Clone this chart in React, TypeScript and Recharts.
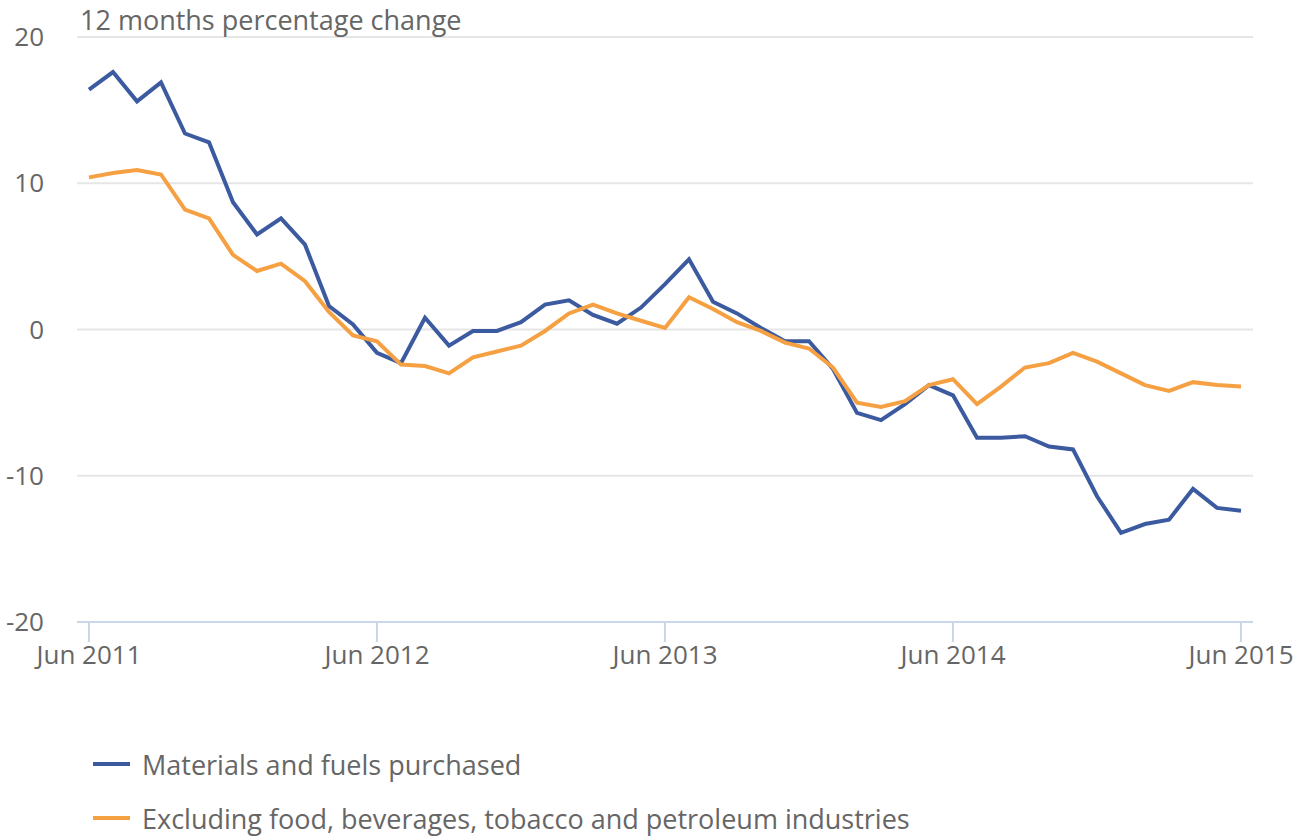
import React from "react";
import { LineChart, Line, XAxis, YAxis, CartesianGrid, Legend } from "recharts";

const MONTHS = [
  "Jun 2011", "Jul 2011", "Aug 2011", "Sep 2011", "Oct 2011", "Nov 2011", "Dec 2011",
  "Jan 2012", "Feb 2012", "Mar 2012", "Apr 2012", "May 2012", "Jun 2012", "Jul 2012",
  "Aug 2012", "Sep 2012", "Oct 2012", "Nov 2012", "Dec 2012", "Jan 2013", "Feb 2013",
  "Mar 2013", "Apr 2013", "May 2013", "Jun 2013", "Jul 2013", "Aug 2013", "Sep 2013",
  "Oct 2013", "Nov 2013", "Dec 2013", "Jan 2014", "Feb 2014", "Mar 2014", "Apr 2014",
  "May 2014", "Jun 2014", "Jul 2014", "Aug 2014", "Sep 2014", "Oct 2014", "Nov 2014",
  "Dec 2014", "Jan 2015", "Feb 2015", "Mar 2015", "Apr 2015", "May 2015", "Jun 2015",
];

const MATERIALS = [
  16.4, 17.6, 15.6, 16.9, 13.4, 12.8, 8.7, 6.5, 7.6, 5.8, 1.6, 0.35, -1.6, -2.3,
  0.8, -1.1, -0.1, -0.1, 0.5, 1.7, 2.0, 1.0, 0.4, 1.5, 3.1, 4.8, 1.9, 1.1,
  0.1, -0.8, -0.8, -2.7, -5.7, -6.2, -5.1, -3.8, -4.5, -7.4, -7.4, -7.3, -8.0, -8.2,
  -11.4, -13.9, -13.3, -13.0, -10.9, -12.2, -12.4,
];

const EXCLUDING = [
  10.4, 10.7, 10.9, 10.6, 8.2, 7.6, 5.1, 4.0, 4.5, 3.3, 1.2, -0.4, -0.8, -2.4,
  -2.5, -3.0, -1.9, -1.5, -1.1, -0.1, 1.1, 1.7, 1.1, 0.6, 0.1, 2.2, 1.4, 0.5,
  -0.1, -0.9, -1.3, -2.6, -5.0, -5.3, -4.9, -3.8, -3.4, -5.1, -3.9, -2.6, -2.3, -1.6,
  -2.2, -3.0, -3.8, -4.2, -3.6, -3.8, -3.9,
];

const X_TICKS = ["Jun 2011", "Jun 2012", "Jun 2013", "Jun 2014", "Jun 2015"];
const Y_TICKS = [-20, -10, 0, 10, 20];

const SERIES = [
  { key: "materials", name: "Materials and fuels purchased", color: "#3c5a9f" },
  { key: "excluding", name: "Excluding food, beverages, tobacco and petroleum industries", color: "#f5a042" },
];

const data = MONTHS.map((month, i) => ({
  month,
  materials: MATERIALS[i],
  excluding: EXCLUDING[i],
}));

const FONT = "'Open Sans', sans-serif";
const TEXT = "#666666";
const AXIS = "#ccd6eb";

function LegendBox() {
  return (
    <div style={{ height: 154, paddingTop: 64, boxSizing: "border-box", fontFamily: FONT }}>
      {SERIES.map((s, i) => (
        <div
          key={s.key}
          style={{
            display: "flex",
            alignItems: "center",
            height: 36,
            marginTop: i === 0 ? 0 : 18,
            paddingLeft: 93,
          }}
        >
          <span style={{ display: "inline-block", width: 37, height: 4, background: s.color }} />
          <span style={{ marginLeft: 12, fontSize: 27, color: TEXT, whiteSpace: "nowrap" }}>{s.name}</span>
        </div>
      ))}
    </div>
  );
}

export default function App() {
  return (
    <div style={{ position: "relative", width: 1301, height: 836, fontFamily: FONT }}>
      <style>{"body{margin:0;overflow:hidden}"}</style>
      <div
        style={{
          position: "absolute",
          left: 80,
          top: 1,
          fontSize: 27,
          color: TEXT,
          zIndex: 2,
          whiteSpace: "nowrap",
        }}
      >
        12 months percentage change
      </div>
      <LineChart
        width={1301}
        height={836}
        data={data}
        margin={{ top: 37, right: 48, bottom: 0, left: 0 }}
      >
        <CartesianGrid vertical={false} stroke="#e6e6e6" strokeWidth={2} />
        <XAxis
          dataKey="month"
          ticks={X_TICKS}
          interval={0}
          padding={{ left: 12, right: 12 }}
          height={60}
          tickSize={20}
          tickMargin={4}
          axisLine={{ stroke: AXIS, strokeWidth: 2 }}
          tickLine={{ stroke: AXIS, strokeWidth: 2 }}
          tick={{ fill: TEXT, fontSize: 26, fontFamily: FONT }}
        />
        <YAxis
          domain={[-20, 20]}
          ticks={Y_TICKS}
          width={77}
          axisLine={false}
          tickLine={false}
          tickSize={0}
          tickMargin={33}
          tick={{ fill: TEXT, fontSize: 26, fontFamily: FONT }}
        />
        <Legend verticalAlign="bottom" align="left" content={() => <LegendBox />} />
        {SERIES.map((s) => (
          <Line
            key={s.key}
            type="linear"
            dataKey={s.key}
            name={s.name}
            stroke={s.color}
            strokeWidth={4}
            dot={false}
            activeDot={false}
            isAnimationActive={false}
          />
        ))}
      </LineChart>
    </div>
  );
}
